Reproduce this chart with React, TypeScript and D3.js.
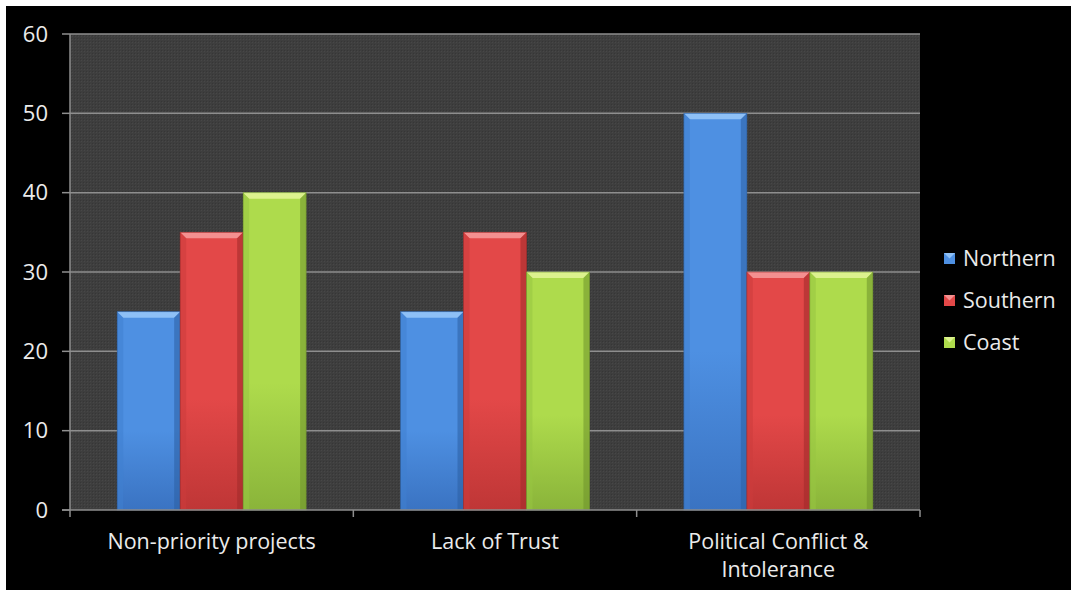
import React from "react";
import * as d3 from "d3";

const categories: string[][] = [
  ["Non-priority projects"],
  ["Lack of Trust"],
  ["Political Conflict &", "Intolerance"],
];
const seriesNames = ["Northern", "Southern", "Coast"];
const northern = [25, 25, 50];
const southern = [35, 35, 30];
const coast = [40, 30, 30];
const yTicks = [0, 10, 20, 30, 40, 50, 60];

const palette = [
  { id: "blue", top: "#8ec0f6", mid: "#4e90e2", low: "#3a73c2", side: "#3f7fcf", dark: "#2c5fa3" },
  { id: "red", top: "#f49090", mid: "#e34848", low: "#bf3636", side: "#cc3c3c", dark: "#9e2a2a" },
  { id: "green", top: "#dcf28e", mid: "#aedb4c", low: "#8ab43a", side: "#98c442", dark: "#6e922c" },
];

const W = 1071;
const H = 590;
const plot = { left: 70, right: 920, top: 34, bottom: 510 };
const FONT = "'Open Sans', 'Noto Sans', sans-serif";

export default function App() {
  const x0 = d3
    .scaleBand<number>()
    .domain(categories.map((_, i) => i))
    .range([plot.left, plot.right])
    .paddingInner(0)
    .paddingOuter(0);
  const groupW = x0.bandwidth();
  const barW = groupW / 4.5;
  const x1 = d3
    .scaleBand<number>()
    .domain([0, 1, 2])
    .range([(groupW - 3 * barW) / 2, (groupW + 3 * barW) / 2]);
  const y = d3.scaleLinear().domain([0, 60]).range([plot.bottom, plot.top]);
  const values = [northern, southern, coast];
  const bev = 6;

  return (
    <div style={{ position: "fixed", left: 0, top: 0, width: W, height: H, background: "#fff" }}>
      <svg width={W} height={H} style={{ display: "block" }}>
        <defs>
          <pattern id="tex" width="3" height="3" patternUnits="userSpaceOnUse">
            <rect width="3" height="3" fill="#3e3e3e" />
            <rect width="1" height="1" fill="#474747" />
            <rect x="2" y="2" width="1" height="1" fill="#363636" />
          </pattern>
          {palette.map((p) => (
            <linearGradient key={p.id} id={`g-${p.id}`} x1="0" y1="0" x2="0" y2="1">
              <stop offset="0" stopColor={p.mid} />
              <stop offset="0.6" stopColor={p.mid} />
              <stop offset="1" stopColor={p.low} />
            </linearGradient>
          ))}
        </defs>
        <rect x={6} y={6} width={W - 6} height={H - 6} fill="#000" />
        <rect
          x={plot.left}
          y={plot.top}
          width={plot.right - plot.left}
          height={plot.bottom - plot.top}
          fill="url(#tex)"
        />
        {yTicks.map((t) => (
          <g key={t}>
            {t > 0 && (
              <line x1={plot.left} x2={plot.right} y1={y(t)} y2={y(t)} stroke="#8e8e8e" strokeWidth={1.5} />
            )}
            <line x1={plot.left - 8} x2={plot.left} y1={y(t)} y2={y(t)} stroke="#8e8e8e" strokeWidth={1.5} />
            <text
              x={48}
              y={y(t)}
              dy="0.35em"
              textAnchor="end"
              fill="#ebebeb"
              fontFamily={FONT}
              fontSize={22}
            >
              {t}
            </text>
          </g>
        ))}
        <line x1={plot.left} x2={plot.left} y1={plot.top} y2={plot.bottom} stroke="#8e8e8e" strokeWidth={1.5} />
        {values.map((vals, s) => {
          const p = palette[s];
          return vals.map((v, c) => {
            const bx = (x0(c) ?? 0) + (x1(s) ?? 0);
            const by = y(v);
            const bh = plot.bottom - by;
            const r = bx + barW;
            return (
              <g key={`${s}-${c}`}>
                <rect x={bx} y={by} width={barW} height={bh} fill={`url(#g-${p.id})`} />
                <polygon
                  points={`${bx},${by} ${r},${by} ${r - bev},${by + bev} ${bx + bev},${by + bev}`}
                  fill={p.top}
                />
                <polygon
                  points={`${bx},${by} ${bx + bev},${by + bev} ${bx + bev},${plot.bottom} ${bx},${plot.bottom}`}
                  fill={p.side}
                  opacity={0.55}
                />
                <polygon
                  points={`${r},${by} ${r - bev},${by + bev} ${r - bev},${plot.bottom} ${r},${plot.bottom}`}
                  fill={p.dark}
                  opacity={0.55}
                />
                <rect x={bx} y={by} width={barW} height={bh} fill="none" stroke={p.dark} strokeWidth={0.8} opacity={0.7} />
              </g>
            );
          });
        })}
        <line x1={plot.left - 8} x2={plot.right} y1={plot.bottom} y2={plot.bottom} stroke="#8e8e8e" strokeWidth={1.5} />
        {[0, 1, 2, 3].map((i) => {
          const xx = plot.left + i * groupW;
          return <line key={i} x1={xx} x2={xx} y1={plot.bottom} y2={plot.bottom + 7} stroke="#8e8e8e" strokeWidth={1.5} />;
        })}
        {categories.map((lines, c) => (
          <text
            key={c}
            x={(x0(c) ?? 0) + groupW / 2}
            y={541}
            textAnchor="middle"
            fill="#ebebeb"
            fontFamily={FONT}
            fontSize={21.5}
          >
            {lines.map((ln, k) => (
              <tspan key={k} x={(x0(c) ?? 0) + groupW / 2} dy={k === 0 ? "0.35em" : 28}>
                {ln}
              </tspan>
            ))}
          </text>
        ))}
        {seriesNames.map((name, s) => {
          const p = palette[s];
          const ly = 258 + s * 42;
          return (
            <g key={name}>
              <rect x={944} y={ly - 5} width={11} height={11} fill={p.mid} />
              <polygon points={`944,${ly - 5} 955,${ly - 5} 949.5,${ly + 0.5}`} fill={p.top} />
              <text x={963} y={ly} dy="0.35em" fill="#ebebeb" fontFamily={FONT} fontSize={21.5}>
                {name}
              </text>
            </g>
          );
        })}
      </svg>
    </div>
  );
}
